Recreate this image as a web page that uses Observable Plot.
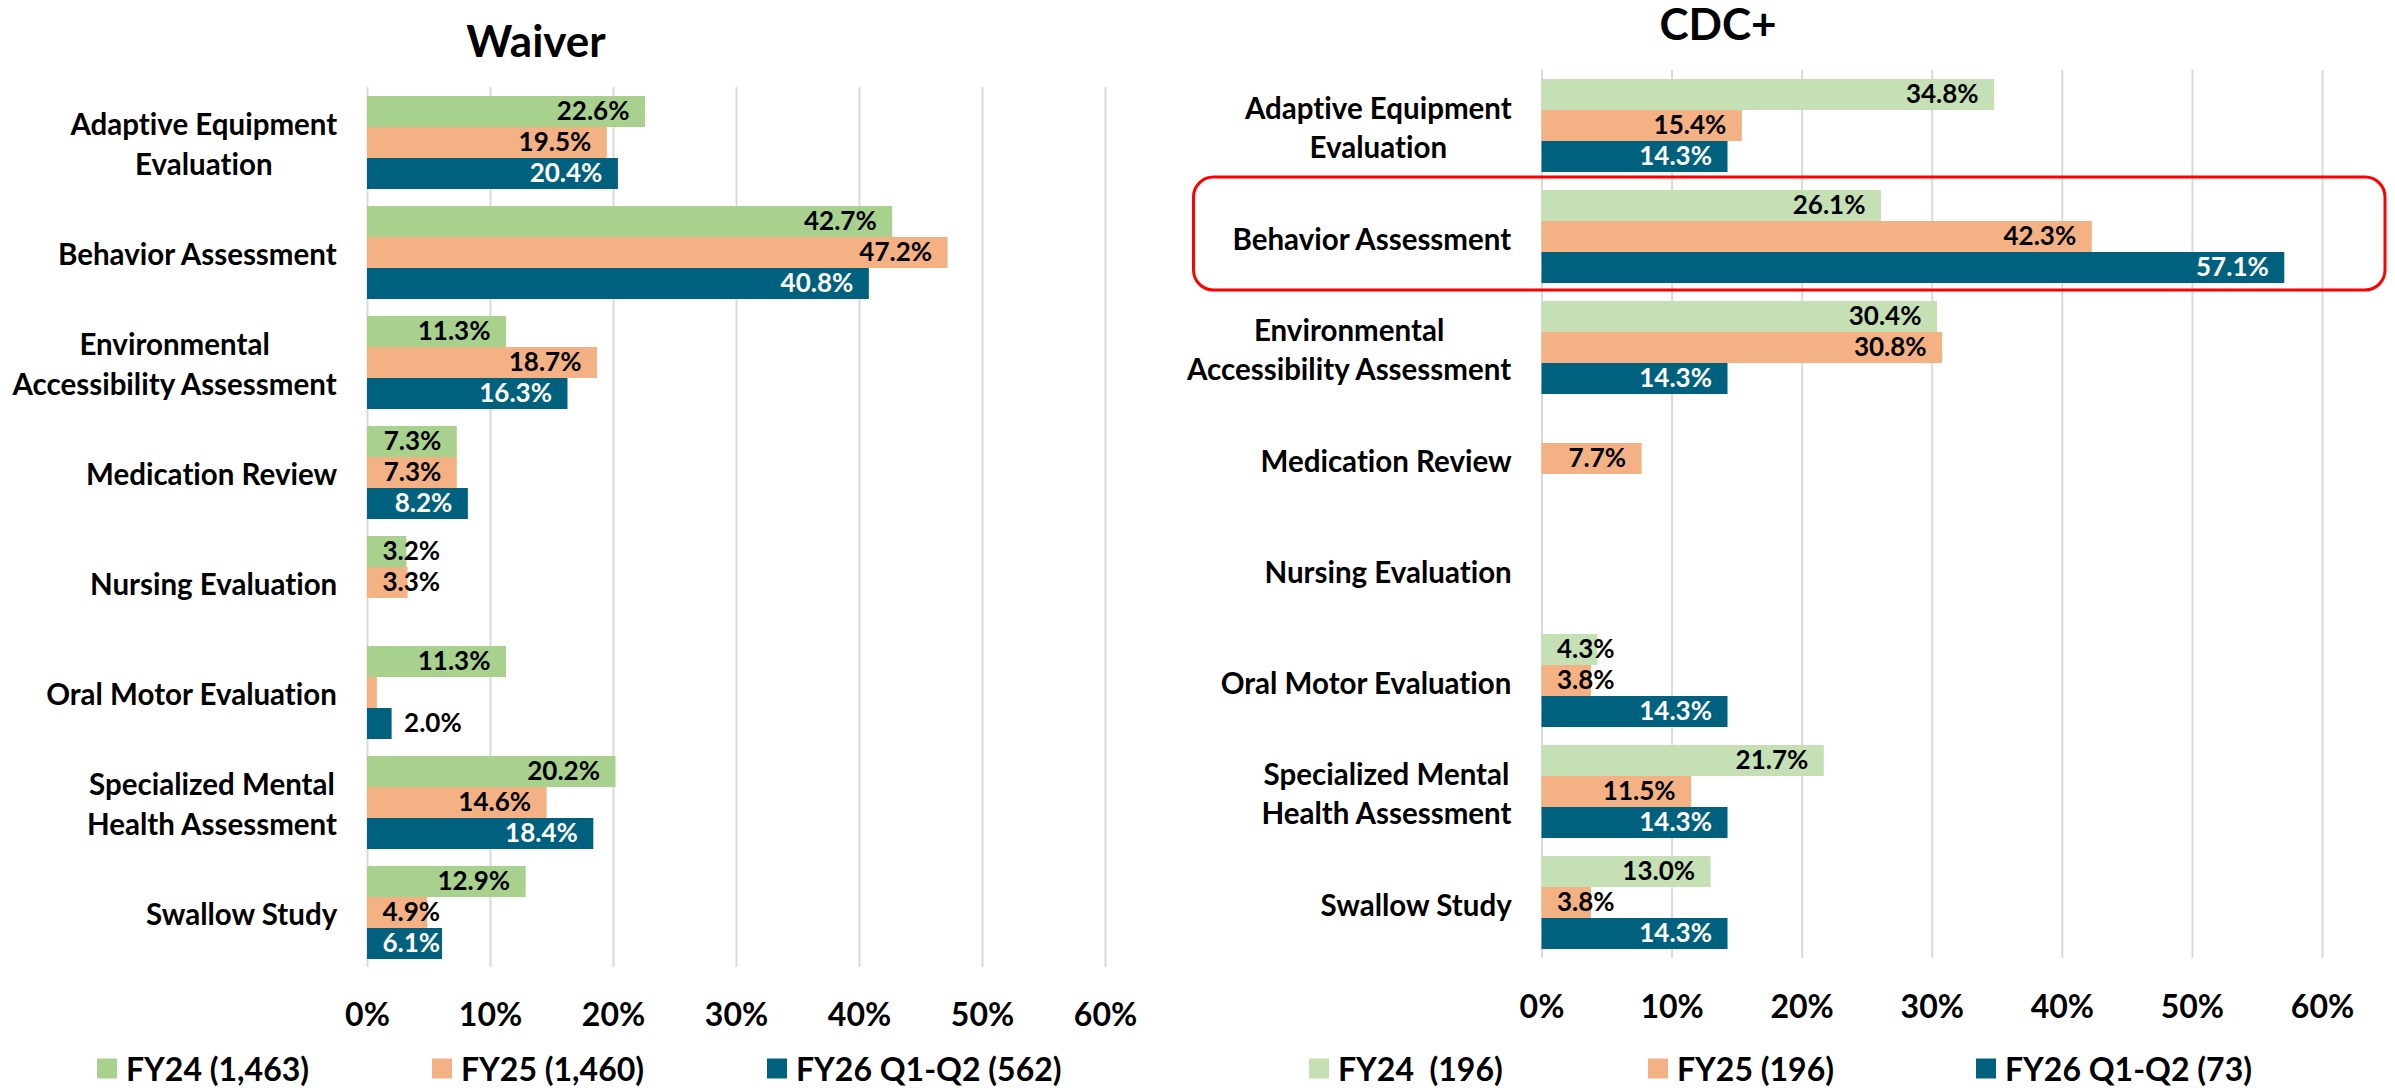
<!DOCTYPE html>
<html>
<head>
<meta charset="utf-8">
<script src="https://cdn.jsdelivr.net/npm/d3@7"></script>
<script src="https://cdn.jsdelivr.net/npm/@observablehq/plot@0.6"></script>
<style>
  html, body { margin: 0; padding: 0; background: #fff; }
  body { position: relative; width: 2395px; height: 1088px; overflow: hidden; font-family: Lato, "Noto Sans", sans-serif; font-weight: 700; color: #000; font-variant-ligatures: none; }
  svg text { font-variant-ligatures: none; }
  .chart { position: absolute; top: 0; }
  .title { position: absolute; transform: translate(-50%, -50%); font-size: 44px; font-weight: 700; white-space: nowrap; }
  .legend-item { position: absolute; display: flex; align-items: center; transform: translateY(-50%); font-size: 32px; font-weight: 700; white-space: pre; }
  .swatch { width: 20px; height: 20px; margin-right: 9px; display: inline-block; }
</style>
</head>
<body>
<div id="left" class="chart" style="left:0px"></div>
<div id="right" class="chart" style="left:1180px"></div>
<script>
// ---------- data ----------
const categories = [
  "Adaptive Equipment Evaluation",
  "Behavior Assessment",
  "Environmental Accessibility Assessment",
  "Medication Review",
  "Nursing Evaluation",
  "Oral Motor Evaluation",
  "Specialized Mental Health Assessment",
  "Swallow Study"
];
const categoryLabels = [
  "Adaptive Equipment\nEvaluation",
  "Behavior Assessment",
  "Environmental\nAccessibility Assessment",
  "Medication Review",
  "Nursing Evaluation",
  "Oral Motor Evaluation",
  "Specialized Mental\nHealth Assessment",
  "Swallow Study"
];
const seriesKeys = ["FY24", "FY25", "FY26"];

const waiverTitle = "Waiver";
const waiverLegend = ["FY24 (1,463)", "FY25 (1,460)", "FY26 Q1-Q2 (562)"];
const waiverFY24 = [22.6, 42.7, 11.3, 7.3, 3.2, 11.3, 20.2, 12.9];
const waiverFY25 = [19.5, 47.2, 18.7, 7.3, 3.3, 0.8, 14.6, 4.9];
const waiverFY26 = [20.4, 40.8, 16.3, 8.2, null, 2.0, 18.4, 6.1];
const waiverHiddenLabels = ["Oral Motor Evaluation|FY25"];
const waiverColors = ["#A9D18E", "#F4B183", "#00617F"];

const cdcTitle = "CDC+";
const cdcLegend = ["FY24  (196)", "FY25 (196)", "FY26 Q1-Q2 (73)"];
const cdcFY24 = [34.8, 26.1, 30.4, null, null, 4.3, 21.7, 13.0];
const cdcFY25 = [15.4, 42.3, 30.8, 7.7, null, 3.8, 11.5, 3.8];
const cdcFY26 = [14.3, 57.1, 14.3, null, null, 14.3, 14.3, 14.3];
const cdcHiddenLabels = [];
const cdcColors = ["#C5E0B4", "#F4B183", "#00617F"];
const highlightCategory = "Behavior Assessment";

const tickValues = [0, 10, 20, 30, 40, 50, 60];

// ---------- helpers ----------
const LABEL_FONT = 29.5;
const measureCtx = document.createElement("canvas").getContext("2d");
measureCtx.font = `700 ${LABEL_FONT}px Lato`;
const textWidth = s => measureCtx.measureText(s).width;

function buildRows(seriesArrays, hidden) {
  const rows = [];
  seriesArrays.forEach((arr, si) => {
    arr.forEach((v, ci) => {
      if (v == null) return;
      const cat = categories[ci], series = seriesKeys[si];
      rows.push({cat, series, value: v, label: hidden.includes(cat + "|" + series) ? "" : v.toFixed(1) + "%"});
    });
  });
  return rows;
}

function categoryLabelMarks() {
  // lines centred on each other, block right-aligned 30px left of the frame
  return categories.map((cat, i) => {
    const lbl = categoryLabels[i];
    const w = Math.max(...lbl.split("\n").map(textWidth));
    return Plot.text([cat], {
      fy: d => d, text: () => lbl, frameAnchor: "left", textAnchor: "middle",
      dx: -30 - w / 2, fontSize: LABEL_FONT, fontWeight: 700, lineHeight: 1.33, fill: "black"
    });
  });
}

function makeChart(cfg) {
  const rows = cfg.rows;
  const insideEnd = rows.filter(d => d.value >= 7);
  const insideBase = rows.filter(d => d.value >= 2.5 && d.value < 7);
  const outside = rows.filter(d => d.value < 2.5);
  const labelFill = d => d.series === "FY26" ? "white" : "black";
  const marks = [
    Plot.gridX(tickValues, {stroke: "#d9d9d9", strokeOpacity: 1, strokeWidth: 2}),
    Plot.barX(rows, {fy: "cat", y: "series", x: "value", fill: "series"}),
    Plot.text(insideEnd, {fy: "cat", y: "series", x: "value", text: "label", textAnchor: "end", dx: -16, fill: labelFill, fontSize: 26, fontWeight: 700}),
    Plot.text(insideBase, {fy: "cat", y: "series", x: 0, text: "label", textAnchor: "start", dx: 15, fill: labelFill, fontSize: 26, fontWeight: 700}),
    Plot.text(outside, {fy: "cat", y: "series", x: "value", text: "label", textAnchor: "start", dx: 12, fill: "black", fontSize: 26, fontWeight: 700}),
    Plot.axisX(tickValues, {tickFormat: d => d + "%", tickSize: 0, tickPadding: cfg.tickPadding, fontSize: 32, fontWeight: 700, fill: "black", label: null}),
    ...categoryLabelMarks()
  ];
  if (cfg.highlight) {
    marks.push(Plot.rect([{cat: cfg.highlight}], {fy: "cat", x1: 0, x2: 60, insetLeft: -348, insetRight: -63, insetTop: -4, insetBottom: 2, rx: 20, fill: "none", stroke: "#FF0000", strokeWidth: 3}));
  }
  return Plot.plot({
    width: cfg.width,
    height: 1040,
    marginTop: cfg.marginTop,
    marginBottom: 1040 - cfg.frameBottom,
    marginLeft: cfg.marginLeft,
    marginRight: cfg.marginRight,
    x: {domain: [0, 60]},
    fy: {domain: categories, padding: 0, axis: null},
    y: {domain: seriesKeys, paddingInner: 0, paddingOuter: cfg.yPadOuter, axis: null},
    color: {domain: seriesKeys, range: cfg.colors},
    style: {fontFamily: "Lato, 'Noto Sans', sans-serif", fontWeight: 700, color: "black", background: "transparent", overflow: "visible"},
    marks
  });
}

function addTitle(text, x, y) {
  const d = document.createElement("div");
  d.className = "title";
  d.textContent = text;
  d.style.left = x + "px";
  d.style.top = y + "px";
  document.body.appendChild(d);
}

function addLegend(labels, colors, xs, y) {
  labels.forEach((lab, i) => {
    const item = document.createElement("div");
    item.className = "legend-item";
    item.style.left = xs[i] + "px";
    item.style.top = y + "px";
    const sw = document.createElement("span");
    sw.className = "swatch";
    sw.style.background = colors[i];
    const tx = document.createElement("span");
    tx.textContent = lab;
    item.appendChild(sw);
    item.appendChild(tx);
    document.body.appendChild(item);
  });
}

// ---------- render ----------
const leftSvg = makeChart({
  rows: buildRows([waiverFY24, waiverFY25, waiverFY26], waiverHiddenLabels),
  colors: waiverColors,
  width: 1180, marginLeft: 367, marginRight: 75, marginTop: 85, frameBottom: 969,
  yPadOuter: 0.245, tickPadding: 36
});
document.getElementById("left").appendChild(leftSvg);

const rightSvg = makeChart({
  rows: buildRows([cdcFY24, cdcFY25, cdcFY26], cdcHiddenLabels),
  colors: cdcColors,
  width: 1215, marginLeft: 361.5, marginRight: 73, marginTop: 68, frameBottom: 959,
  yPadOuter: 0.26, tickPadding: 37, highlight: highlightCategory
});
document.getElementById("right").appendChild(rightSvg);

addTitle(waiverTitle, 536, 40);
addTitle(cdcTitle, 1718, 23);
addLegend(waiverLegend, waiverColors, [97, 432, 767], 1068);
addLegend(cdcLegend, cdcColors, [1309, 1648, 1976], 1068);
</script>
</body>
</html>
